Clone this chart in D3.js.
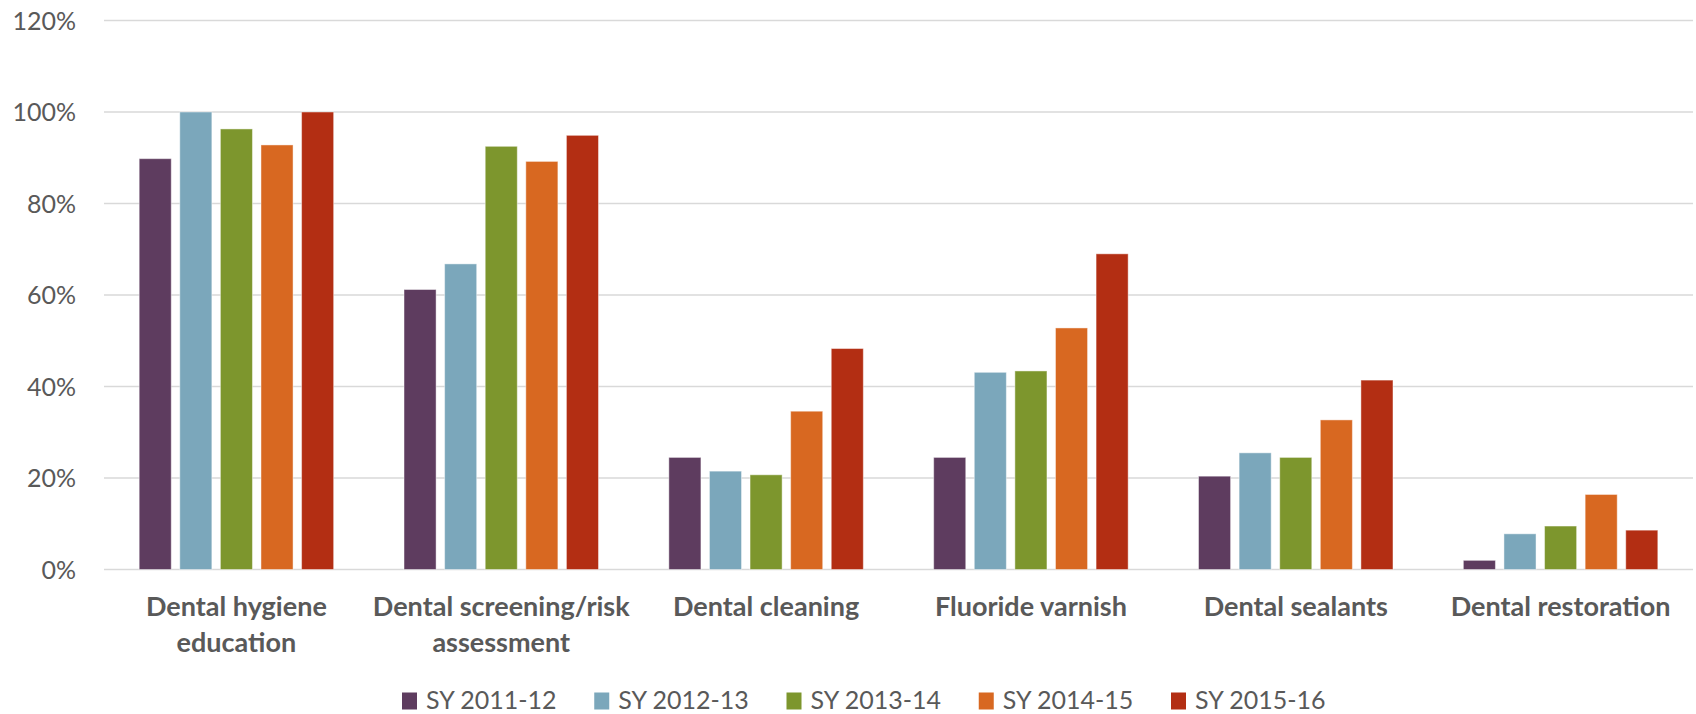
<!DOCTYPE html>
<html>
<head>
<meta charset="utf-8">
<script src="https://cdn.jsdelivr.net/npm/d3@7"></script>
<style>
    html, body { margin: 0; padding: 0; background: #fff; }
    svg text { font-family: Lato, "Open Sans", sans-serif; fill: #595959; }
</style>
</head>
<body>
<script>
// chart data
let categories = [
    ["Dental hygiene", "education"],
    ["Dental screening/risk", "assessment"],
    ["Dental cleaning"],
    ["Fluoride varnish"],
    ["Dental sealants"],
    ["Dental restoration"]
];
let series = ["SY 2011-12", "SY 2012-13", "SY 2013-14", "SY 2014-15", "SY 2015-16"];
let colors = ["#5e3c5f", "#7ba7bb", "#7d962d", "#d86821", "#b32e13"];

let sy201112 = [0.898, 0.612, 0.245, 0.245, 0.204, 0.020];
let sy201213 = [1.000, 0.668, 0.215, 0.431, 0.255, 0.078];
let sy201314 = [0.963, 0.925, 0.207, 0.434, 0.245, 0.095];
let sy201415 = [0.928, 0.892, 0.346, 0.528, 0.327, 0.164];
let sy201516 = [1.000, 0.949, 0.483, 0.690, 0.414, 0.086];

let yTicks = [0, 0.2, 0.4, 0.6, 0.8, 1.0, 1.2];

let values = [sy201112, sy201213, sy201314, sy201415, sy201516];

let width = 1696, height = 714;
let plotLeft = 104, plotRight = 1693, plotTop = 20.5, plotBottom = 569.5;

let svg = d3.select("body")
    .append("svg")
    .attr("width", width)
    .attr("height", height);

let catNames = categories.map(d => d.join(" "));

let x0 = d3.scaleBand()
    .domain(catNames)
    .range([plotLeft, plotRight]);

let groupW = 203;
let x1 = d3.scaleBand()
    .domain(series)
    .range([-groupW / 2, groupW / 2])
    .paddingInner(0.21)
    .paddingOuter(0.105);

let y = d3.scaleLinear()
    .domain([0, 1.2])
    .range([plotBottom, plotTop]);

// gridlines
svg.append("g")
    .selectAll("line")
    .data(yTicks)
    .join("line")
    .attr("x1", plotLeft)
    .attr("x2", plotRight)
    .attr("y1", d => y(d))
    .attr("y2", d => y(d))
    .style("stroke", "#d9d9d9")
    .style("stroke-width", 1.4);

// y axis labels
let yAxis = svg.append("g")
    .attr("transform", `translate(${plotLeft - 28},0)`)
    .call(d3.axisLeft(y).tickValues(yTicks).tickFormat(d3.format(".0%")).tickSize(0).tickPadding(0));
yAxis.select(".domain").remove();
yAxis.selectAll("text")
    .attr("dy", "0.35em")
    .style("font-size", "25px")
    .style("font-family", "Lato, 'Open Sans', sans-serif")
    .style("fill", "#595959");

// bars
let groups = svg.append("g")
    .selectAll("g")
    .data(catNames)
    .join("g")
    .attr("transform", d => `translate(${x0(d) + x0.bandwidth() / 2},0)`);

groups.selectAll("rect")
    .data((d, i) => series.map((s, j) => ({s: s, c: colors[j], v: values[j][i]})))
    .join("rect")
    .attr("x", d => x1(d.s))
    .attr("width", x1.bandwidth())
    .attr("y", d => y(d.v))
    .attr("height", d => y(0) - y(d.v))
    .style("fill", d => d.c)
    .style("stroke", "#fff")
    .style("stroke-opacity", 0.45)
    .style("stroke-width", 1);

// category labels
let catLabels = svg.append("g")
    .selectAll("text")
    .data(categories)
    .join("text")
    .attr("x", (d, i) => x0(catNames[i]) + x0.bandwidth() / 2)
    .attr("y", 616)
    .attr("text-anchor", "middle")
    .style("font-size", "27px")
    .style("font-weight", "bold");

catLabels.selectAll("tspan")
    .data(d => d)
    .join("tspan")
    .attr("x", function () {
        return d3.select(this.parentNode).attr("x");
    })
    .attr("dy", (d, i) => i === 0 ? 0 : 35.7)
    .text(d => d);

// legend
let lx = d3.scalePoint()
    .domain(series)
    .range([402, 1171]);

let legend = svg.append("g")
    .selectAll("g")
    .data(series)
    .join("g")
    .attr("transform", d => `translate(${lx(d)},0)`);

legend.append("rect")
    .attr("x", 0)
    .attr("y", 692.5)
    .attr("width", 15)
    .attr("height", 17)
    .style("fill", (d, i) => colors[i]);

legend.append("text")
    .attr("x", 24)
    .attr("y", 709)
    .style("font-size", "25px")
    .text(d => d);
</script>
</body>
</html>
